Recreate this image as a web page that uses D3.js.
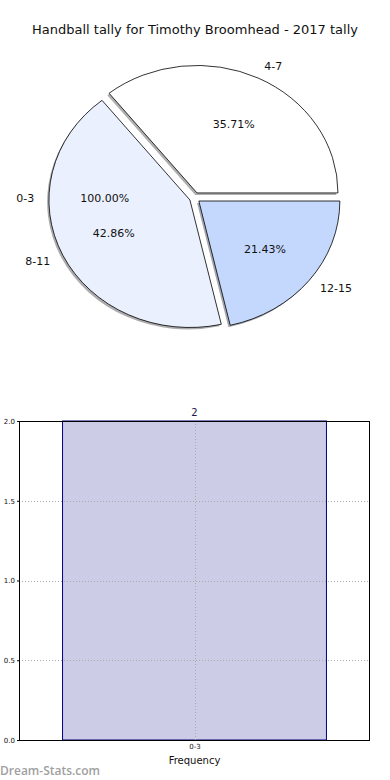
<!DOCTYPE html>
<html><head><meta charset="utf-8">
<script src="https://cdn.jsdelivr.net/npm/d3@7"></script>
<style>
html,body{margin:0;padding:0;background:#fff;}
svg{display:block;font-family:"DejaVu Sans",sans-serif;}
</style></head>
<body>
<div id="chart"></div>
<script>
// ---- data ----
const titleText = "Handball tally for Timothy Broomhead - 2017 tally";
const pieCategories = ["0-3", "4-7", "8-11", "12-15"];
const pieValues = [0, 5, 6, 3];
const pieColors = ["#ffffff", "#ffffff", "#eaf0fe", "#c4d8fd"];
const barCategories = ["0-3"];
const barValues = [2];
const yTicks = [0.0, 0.5, 1.0, 1.5, 2.0];
const xLabel = "Frequency";
const watermark = "Dream-Stats.com";

const W = 390, H = 780;
const svg = d3.select("#chart").append("svg").attr("width", W).attr("height", H);

svg.append("text").attr("x", 195).attr("y", 34).attr("text-anchor", "middle")
  .attr("font-size", 13).attr("fill", "#111").text(titleText);

// ---- pie ----
const cx = 194.7, cy = 197.7, rx = 141, ry = 127.5, explode = 5.3;
const total = d3.sum(pieValues);
// matplotlib style: start at east, counter-clockwise => d3 angle = PI/2 - phi
const pie = d3.pie().sort(null).value(d => d.v).startAngle(Math.PI / 2).endAngle(Math.PI / 2 - 2 * Math.PI);
const data = pieCategories.map((c, i) => ({ c, v: pieValues[i], col: pieColors[i] }));
const arcsAll = pie(data);
const arcGen = d3.arc().innerRadius(0).outerRadius(100);
const fmt = d => d.toFixed(2) + "%";

const slices = arcsAll.map(a => {
  let mid, pct;
  if (a.data.v === 0) { mid = Math.PI; pct = 100; } // zero slice drawn as own full pie
  else {
    const m = (a.startAngle + a.endAngle) / 2; // d3 angle
    mid = Math.PI / 2 - m; pct = a.data.v / total * 100;
  }
  const ox = explode * Math.cos(mid), oy = -explode * Math.sin(mid);
  return { a, mid, pct, ox, oy };
});

const pg = svg.append("g");
// shadows
slices.filter(s => s.a.data.v > 0).forEach(s => {
  const c = d3.color(s.a.data.col);
  const sc = d3.rgb(c.r * 0.3, c.g * 0.3, c.b * 0.3);
  pg.append("path").attr("d", arcGen(s.a))
    .attr("transform", `translate(${cx + s.ox - 1.8},${cy + s.oy + 2}) scale(${rx / 100},${ry / 100})`)
    .attr("fill", sc).attr("fill-opacity", 0.45).attr("stroke", "none");
});
slices.filter(s => s.a.data.v > 0).forEach(s => {
  pg.append("path").attr("d", arcGen(s.a))
    .attr("transform", `translate(${cx + s.ox},${cy + s.oy}) scale(${rx / 100},${ry / 100})`)
    .attr("fill", s.a.data.col).attr("stroke", "#000").attr("stroke-width", 0.8)
    .attr("vector-effect", "non-scaling-stroke").attr("stroke-linejoin", "round");
});
slices.forEach(s => {
  const bx = cx + s.ox, by = cy + s.oy;
  const cs = Math.cos(s.mid), sn = Math.sin(s.mid);
  const lx = bx + 1.1 * rx * cs, ly = by - 1.1 * ry * sn;
  pg.append("text").attr("x", lx).attr("y", ly).attr("dy", "0.35em")
    .attr("text-anchor", cs > 0 ? "start" : "end").attr("font-size", 11).attr("fill", "#111")
    .text(s.a.data.c);
  const px = bx + 0.6 * rx * cs, py = by - 0.6 * ry * sn;
  pg.append("text").attr("x", px).attr("y", py).attr("dy", "0.35em")
    .attr("text-anchor", "middle").attr("font-size", 11).attr("fill", "#111")
    .text(fmt(s.pct));
});

// ---- bar chart ----
const L = 19, R = 370, T = 421, B = 740;
const barW = 0.8;
const x = d3.scaleLinear().domain([-0.532, barCategories.length - 1 + 0.532]).range([L, R]);
const y = d3.scaleLinear().domain([0, 2]).range([B, T]);
const bg = svg.append("g");
bg.selectAll("rect.bar").data(barValues).join("rect").attr("class", "bar")
  .attr("x", (d, i) => x(i - barW / 2)).attr("width", (d, i) => x(i + barW / 2) - x(i - barW / 2))
  .attr("y", d => y(d)).attr("height", d => y(0) - y(d))
  .attr("fill", "#ccccE6").attr("stroke", "#000080").attr("stroke-width", 1);
// grid on top
bg.selectAll("line.hg").data(yTicks).join("line").attr("class", "hg")
  .attr("x1", L).attr("x2", R).attr("y1", d => Math.round(y(d)) + 0.5).attr("y2", d => Math.round(y(d)) + 0.5)
  .attr("stroke", "#aaa").attr("stroke-width", 1).attr("stroke-dasharray", "1,2");
bg.selectAll("line.vg").data(barCategories).join("line").attr("class", "vg")
  .attr("x1", (d, i) => Math.round(x(i)) + 0.5).attr("x2", (d, i) => Math.round(x(i)) + 0.5)
  .attr("y1", T).attr("y2", B)
  .attr("stroke", "#aaa").attr("stroke-width", 1).attr("stroke-dasharray", "1,2");
// frame
bg.append("rect").attr("x", L + 0.5).attr("y", T + 0.5).attr("width", R - L - 1).attr("height", B - T)
  .attr("fill", "none").attr("stroke", "#000").attr("stroke-width", 1);
// axes
const yAxis = d3.axisLeft(y).tickValues(yTicks).tickFormat(d3.format(".1f")).tickSize(2).tickPadding(2);
const ya = bg.append("g").attr("transform", `translate(${L},0)`).call(yAxis);
ya.select(".domain").remove();
ya.selectAll("text").attr("font-size", 7).attr("font-family", "DejaVu Sans").attr("fill", "#111");
const xAxis = d3.axisBottom(x).tickValues(barCategories.map((d, i) => i)).tickFormat(i => barCategories[i]).tickSize(0).tickPadding(4);
const xa = bg.append("g").attr("transform", `translate(0,${B})`).call(xAxis);
xa.select(".domain").remove();
xa.selectAll("text").attr("font-size", 7).attr("font-family", "DejaVu Sans").attr("fill", "#111");
// value labels
bg.selectAll("text.vl").data(barValues).join("text").attr("class", "vl")
  .attr("x", (d, i) => x(i)).attr("y", d => y(d) - 5).attr("text-anchor", "middle")
  .attr("font-size", 10).attr("fill", "#1a1a50").text(d => d);
svg.append("text").attr("x", x(0)).attr("y", 764).attr("text-anchor", "middle")
  .attr("font-size", 10).attr("fill", "#111").text(xLabel);
svg.append("text").attr("x", 0).attr("y", 775).attr("font-size", 12).attr("font-weight", "600")
  .attr("fill", "#a0a0a0").attr("font-family", "'Open Sans', sans-serif").text(watermark);
</script>
</body></html>
